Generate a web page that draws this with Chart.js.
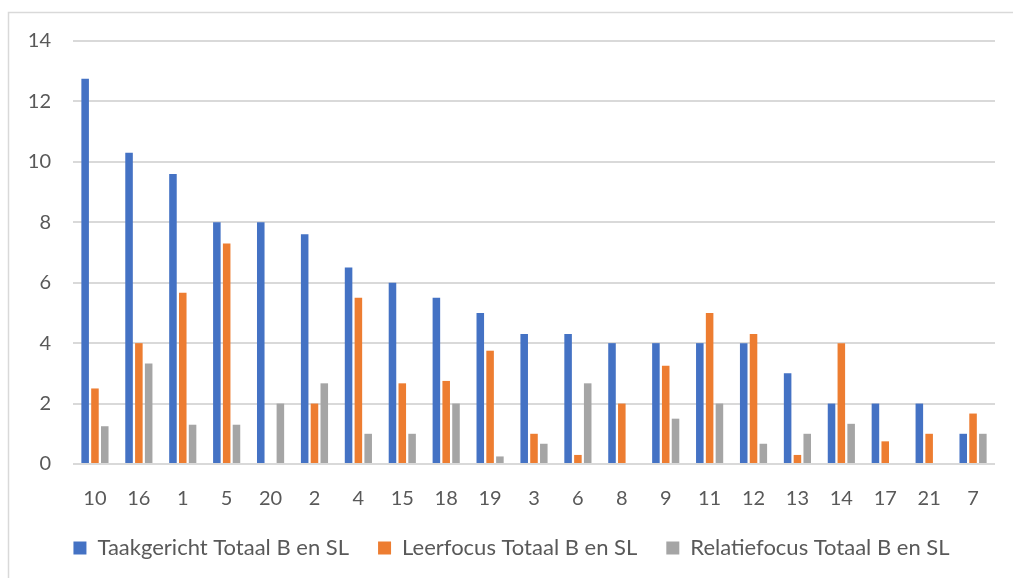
<!DOCTYPE html>
<html>
<head>
<meta charset="utf-8">
<script src="https://cdn.jsdelivr.net/npm/chart.js@4"></script>
<style>
  html, body { margin: 0; padding: 0; background: #ffffff; }
  #wrap { position: relative; width: 1013px; height: 578px; }
</style>
</head>
<body>
<div id="wrap"><canvas id="chart" width="1013" height="578"></canvas></div>
<script>
// Respondent numbers along the x axis
const categories = ['10','16','1','5','20','2','4','15','18','19','3','6','8','9','11','12','13','14','17','21','7'];

// Scores per focus type (totals for B and SL)
const taakgericht  = [12.75, 10.3, 9.6, 8, 8, 7.6, 6.5, 6, 5.5, 5, 4.3, 4.3, 4, 4, 4, 4, 3, 2, 2, 2, 1];
const leerfocus    = [2.5, 4, 5.67, 7.3, 0, 2, 5.5, 2.67, 2.75, 3.75, 1, 0.3, 2, 3.25, 5, 4.3, 0.3, 4, 0.75, 1, 1.67];
const relatiefocus = [1.25, 3.33, 1.3, 1.3, 2, 2.67, 1, 1, 2, 0.25, 0.67, 2.67, 0, 1.5, 2, 0.67, 1, 1.33, 0, 0, 1];

const seriesNames = ['Taakgericht Totaal B en SL', 'Leerfocus Totaal B en SL', 'Relatiefocus Totaal B en SL'];

const textColor = '#595959';
const gridColor = '#D9D9D9';
const fontFamily = 'Lato, "Open Sans", sans-serif';

// White background plus a thin frame along the top and left edge
const framePlugin = {
  id: 'frame',
  beforeDraw(chart) {
    const ctx = chart.ctx;
    ctx.save();
    ctx.fillStyle = '#ffffff';
    ctx.fillRect(0, 0, chart.width, chart.height);
    ctx.strokeStyle = '#D9D9D9';
    ctx.lineWidth = 1.5;
    ctx.beginPath();
    ctx.moveTo(8.5, chart.height);
    ctx.lineTo(8.5, 12.5);
    ctx.lineTo(chart.width, 12.5);
    ctx.stroke();
    ctx.restore();
  }
};

new Chart(document.getElementById('chart'), {
  type: 'bar',
  data: {
    labels: categories,
    datasets: [
      { label: seriesNames[0], data: taakgericht,  backgroundColor: '#4472C4' },
      { label: seriesNames[1], data: leerfocus,    backgroundColor: '#ED7D31' },
      { label: seriesNames[2], data: relatiefocus, backgroundColor: '#A5A5A5' }
    ]
  },
  options: {
    responsive: false,
    animation: false,
    devicePixelRatio: 1,
    datasets: {
      bar: { categoryPercentage: 0.67, barPercentage: 0.77, borderWidth: 0 }
    },
    layout: { padding: { top: 41, left: 28, right: 18, bottom: 9 } },
    scales: {
      x: {
        grid: { display: false },
        border: { display: false },
        ticks: { color: textColor, padding: 15, font: { family: fontFamily, size: 20 }, maxRotation: 0, autoSkip: false },
        afterFit(scale) { scale.height = 44; }
      },
      y: {
        min: 0,
        max: 14,
        ticks: { stepSize: 2, color: textColor, padding: 22, font: { family: fontFamily, size: 20 } },
        grid: { color: gridColor, lineWidth: 2, drawTicks: false },
        border: { display: false },
        afterFit(scale) { scale.width = 45; }
      }
    },
    plugins: {
      legend: {
        position: 'bottom',
        labels: {
          color: textColor,
          boxWidth: 13,
          boxHeight: 13,
          padding: 29,
          font: { family: fontFamily, size: 22 }
        }
      },
      tooltip: { enabled: false }
    }
  },
  plugins: [framePlugin]
});
</script>
</body>
</html>
